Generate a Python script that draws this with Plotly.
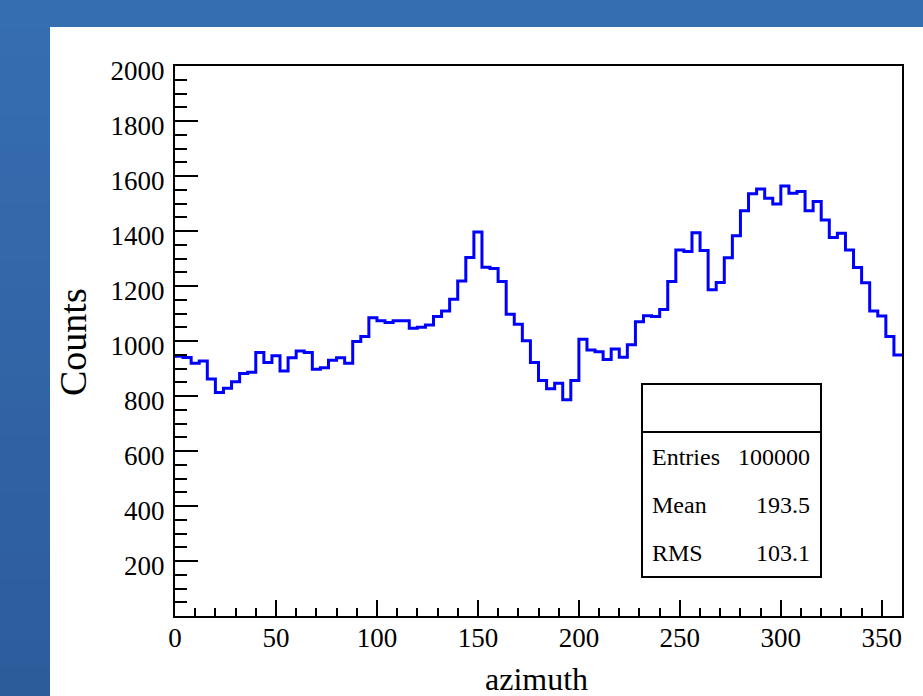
import plotly.graph_objects as go

# ---------------- data ----------------
bin_width = 4
x_min, x_max = 0, 360
counts = [
    945, 940, 919, 927, 862, 813, 828, 852, 882, 886,
    958, 922, 946, 891, 939, 964, 958, 897, 903, 930,
    939, 919, 998, 1016, 1085, 1074, 1067, 1074, 1074, 1046,
    1050, 1058, 1089, 1109, 1152, 1218, 1304, 1396, 1268, 1264,
    1216, 1097, 1061, 1001, 922,
    856, 826, 846, 786, 856, 1006, 967, 961, 933, 971,
    941, 986, 1070, 1092, 1089, 1115, 1216, 1331, 1325, 1394,
    1329, 1186, 1213, 1303,
    1383, 1474, 1535, 1553, 1519, 1498, 1564, 1537, 1544, 1474,
    1507, 1440, 1376, 1392, 1331, 1267, 1212, 1109, 1091, 1016, 949,
]
y_tick_vals = [200, 400, 600, 800, 1000, 1200, 1400, 1600, 1800, 2000]
x_tick_vals = [0, 50, 100, 150, 200, 250, 300, 350]
stats_labels = ["Entries", "Mean", "RMS"]
stats_values = ["100000", "193.5", "103.1"]
x_title = "azimuth"
y_title = "Counts"

# ---------------- figure ----------------
W, H = 923, 696
L, R, T, B = 175, 21, 66, 80
pw, ph = W - L - R, H - T - B

def px_x(px):
    return (px - L) / pw

def px_y(py):
    return (H - B - py) / ph

edges = [x_min + i * bin_width for i in range(len(counts) + 1)]
xs = edges
ys = counts + [counts[-1]]

fig = go.Figure()
fig.add_trace(go.Scatter(
    x=xs, y=ys, mode="lines", line=dict(color="#0000FF", width=3, shape="hv"),
    hoverinfo="skip", showlegend=False,
))

FONT = "Liberation Serif, Times New Roman, serif"

shapes = []
# background gradient strips (blue frame)
n_bands = 24
top_c = (54, 110, 178)
bot_c = (45, 92, 155)
for i in range(n_bands):
    f = i / (n_bands - 1)
    c = tuple(int(round(top_c[k] + (bot_c[k] - top_c[k]) * f)) for k in range(3))
    y0p = i * H / n_bands
    y1p = (i + 1) * H / n_bands + 1
    shapes.append(dict(type="rect", xref="paper", yref="paper",
                       x0=px_x(-5), x1=px_x(W + 5), y0=px_y(y1p), y1=px_y(y0p),
                       fillcolor="rgb(%d,%d,%d)" % c, line=dict(width=0), layer="below"))
# white canvas
shapes.append(dict(type="rect", xref="paper", yref="paper",
                   x0=px_x(50), x1=px_x(W + 5), y0=px_y(H + 5), y1=px_y(27),
                   fillcolor="white", line=dict(width=0), layer="below"))
# stats box
bx0, bx1, by0, bdiv, by1 = 642, 821, 384, 432, 577
shapes.append(dict(type="rect", xref="paper", yref="paper",
                   x0=px_x(bx0), x1=px_x(bx1), y0=px_y(by1), y1=px_y(by0),
                   fillcolor="white", line=dict(color="black", width=2), layer="above"))
shapes.append(dict(type="line", xref="paper", yref="paper",
                   x0=px_x(bx0), x1=px_x(bx1), y0=px_y(bdiv), y1=px_y(bdiv),
                   line=dict(color="black", width=2), layer="above"))

annotations = []
row_y = [457, 505, 553]
for lab, val, yy in zip(stats_labels, stats_values, row_y):
    annotations.append(dict(xref="paper", yref="paper", x=px_x(650), y=px_y(yy),
                            text=lab, showarrow=False, xanchor="left", yanchor="middle",
                            font=dict(family=FONT, size=24, color="black")))
    annotations.append(dict(xref="paper", yref="paper", x=px_x(812), y=px_y(yy),
                            text=val, showarrow=False, xanchor="right", yanchor="middle",
                            font=dict(family=FONT, size=24, color="black")))
annotations.append(dict(xref="paper", yref="paper", x=px_x(536), y=px_y(679),
                        text=x_title, showarrow=False, xanchor="center", yanchor="middle",
                        font=dict(family=FONT, size=32, color="black")))
annotations.append(dict(xref="paper", yref="paper", x=px_x(73), y=px_y(342),
                        text=y_title, showarrow=False, xanchor="center", yanchor="middle",
                        textangle=-90,
                        font=dict(family=FONT, size=38, color="black")))

fig.update_layout(
    width=W, height=H,
    margin=dict(l=L, r=R, t=T, b=B, pad=0),
    paper_bgcolor="rgb(50,104,170)",
    plot_bgcolor="white",
    shapes=shapes,
    annotations=annotations,
    showlegend=False,
    font=dict(family=FONT, color="black"),
)
fig.update_xaxes(
    range=[x_min, x_max], showgrid=False, zeroline=False,
    showline=True, linecolor="black", linewidth=2, mirror=True,
    ticks="inside", ticklen=16, tickwidth=2, tickcolor="black",
    tickvals=x_tick_vals, ticktext=[str(v) for v in x_tick_vals],
    tickfont=dict(family=FONT, size=27, color="black"),
    ticklabelstandoff=-3,
    minor=dict(ticks="inside", ticklen=8, tickwidth=2, tickcolor="black", dtick=10, tick0=0),
)
fig.update_yaxes(
    range=[0, 2000], showgrid=False, zeroline=False,
    showline=True, linecolor="black", linewidth=2, mirror=True,
    ticks="inside", ticklen=23, tickwidth=2, tickcolor="black",
    tickvals=y_tick_vals, ticktext=[str(v) for v in y_tick_vals],
    tickfont=dict(family=FONT, size=27, color="black"),
    ticklabelstandoff=3, ticklabelshift=5,
    minor=dict(ticks="inside", ticklen=12, tickwidth=2, tickcolor="black", dtick=50, tick0=0),
)

fig.write_html(
    "out.html",
    config={"displayModeBar": False},
    post_script="document.body.style.margin='0';document.body.style.overflow='hidden';",
)
